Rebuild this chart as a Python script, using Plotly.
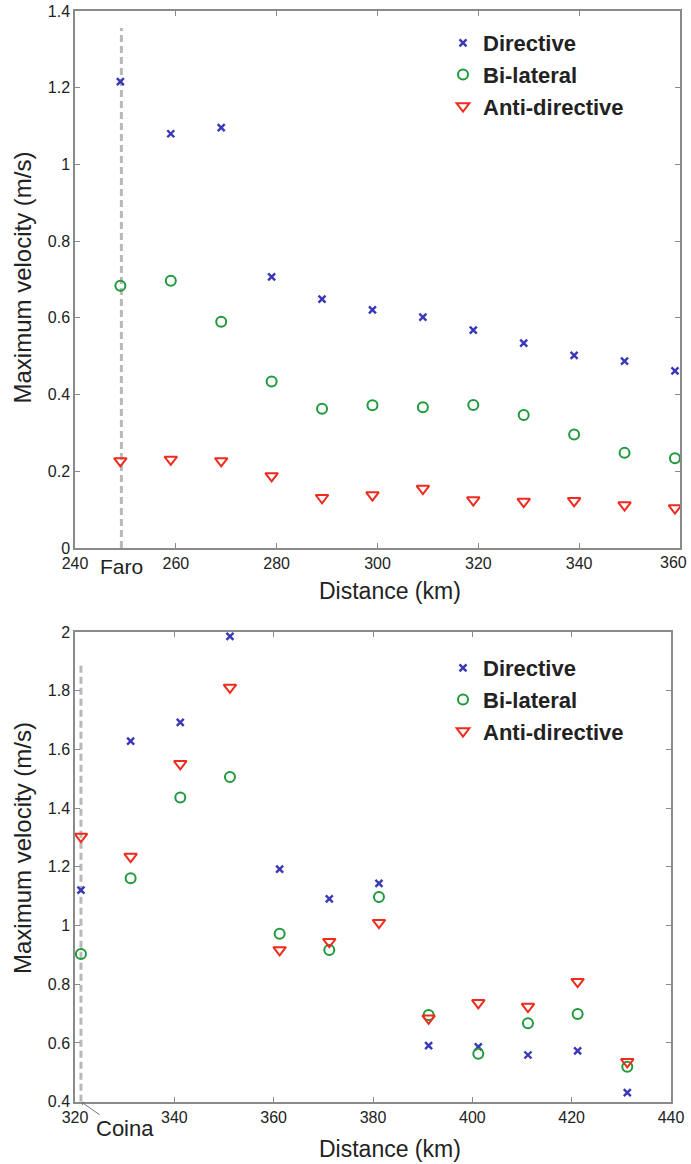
import plotly.graph_objects as go

# ---------------- data ----------------
series_names = ["Directive", "Bi-lateral", "Anti-directive"]

# Top panel (Faro)
dist_top = [249, 259, 269, 279, 289, 299, 309, 319, 329, 339, 349, 359]
directive_top = [1.216, 1.080, 1.096, 0.707, 0.649, 0.621, 0.602, 0.568, 0.534, 0.502, 0.487, 0.462]
bilateral_top = [0.684, 0.697, 0.590, 0.434, 0.363, 0.372, 0.367, 0.373, 0.347, 0.296, 0.248, 0.234]
antidir_top = [0.227, 0.231, 0.227, 0.188, 0.131, 0.138, 0.155, 0.125, 0.121, 0.123, 0.112, 0.104]
faro_km = 249.2
faro_line_top = 1.356
xticks_top = [240, 260, 280, 300, 320, 340, 360]

# Bottom panel (Coina)
dist_bot = [321.2, 331.2, 341.2, 351.2, 361.2, 371.2, 381.2, 391.2, 401.2, 411.2, 421.2, 431.2]
directive_bot = [1.121, 1.628, 1.692, 1.985, 1.192, 1.091, 1.144, 0.591, 0.587, 0.559, 0.573, 0.431]
bilateral_bot = [0.903, 1.161, 1.436, 1.506, 0.972, 0.917, 1.097, 0.695, 0.563, 0.667, 0.699, 0.519]
antidir_bot = [1.303, 1.235, 1.551, 1.811, 0.917, 0.945, 1.010, 0.684, 0.737, 0.724, 0.809, 0.536]
coina_km = 321.2
coina_line_top = 1.885

x_title = "Distance (km)"
y_title = "Maximum velocity (m/s)"

# ---------------- styling ----------------
W, H = 691, 1164
BLUE = "#3838b8"
GREEN = "#1e9a3c"
RED = "#ee2b1c"
AXIS = "#8a8a8a"
TXT = "#222222"
FONT = "Liberation Sans, Arial, Helvetica, sans-serif"
TICKFONT = dict(family=FONT, size=16, color=TXT)


def px_x(p):
    return p / W


def px_y(p):
    return 1 - p / H


fig = go.Figure()

styles = [
    dict(symbol="x-thin", size=7, color=BLUE, line=dict(color=BLUE, width=2.4)),
    dict(symbol="circle-open", size=10, color=GREEN, line=dict(color=GREEN, width=2)),
    dict(symbol="triangle-down-open", size=11, color=RED, line=dict(color=RED, width=2)),
]

top_vals = [directive_top, bilateral_top, antidir_top]
bot_vals = [directive_bot, bilateral_bot, antidir_bot]

for name, vals, st in zip(series_names, top_vals, styles):
    fig.add_trace(go.Scatter(x=dist_top, y=vals, mode="markers", name=name,
                             marker=st, xaxis="x", yaxis="y", legend="legend"))
for name, vals, st in zip(series_names, bot_vals, styles):
    fig.add_trace(go.Scatter(x=dist_bot, y=vals, mode="markers", name=name,
                             marker=st, xaxis="x2", yaxis="y2", legend="legend2"))

axis_common = dict(
    showline=True, linecolor=AXIS, linewidth=1.5, mirror="ticks",
    ticks="inside", ticklen=5, tickcolor=AXIS, tickwidth=1,
    showgrid=False, zeroline=False,
    tickfont=TICKFONT,
    ticklabeloverflow="allow",
    automargin=False,
)

# last top tick label is drawn separately so it stays inside the page edge
top_ticktext = [str(v) for v in xticks_top[:-1]] + [""]

fig.update_layout(
    width=W, height=H,
    margin=dict(l=0, r=0, t=0, b=0),
    paper_bgcolor="white", plot_bgcolor="white",
    showlegend=True,
    xaxis=dict(domain=[px_x(75), px_x(680)], range=[240, 360],
               tickmode="array", tickvals=xticks_top, ticktext=top_ticktext,
               anchor="y", **axis_common),
    yaxis=dict(domain=[px_y(548), px_y(11)], range=[0, 1.4], dtick=0.2,
               anchor="x", **axis_common),
    xaxis2=dict(domain=[px_x(75), px_x(671)], range=[320, 440], dtick=20,
                anchor="y2", **axis_common),
    yaxis2=dict(domain=[px_y(1101.7), px_y(632)], range=[0.4, 2], dtick=0.2,
                anchor="x2", **axis_common),
    legend=dict(x=px_x(443), y=px_y(22), xanchor="left", yanchor="top",
                bgcolor="rgba(0,0,0,0)",
                font=dict(family=FONT, size=22, color=TXT, weight="bold")),
    legend2=dict(x=px_x(443), y=px_y(647), xanchor="left", yanchor="top",
                 bgcolor="rgba(0,0,0,0)",
                 font=dict(family=FONT, size=22, color=TXT, weight="bold")),
)

fig.add_annotation(x=xticks_top[-1], xref="x", y=0, yref="y", text=str(xticks_top[-1]),
                   showarrow=False, font=TICKFONT, xanchor="right", yanchor="top",
                   xshift=9, yshift=-4)

# station reference lines
fig.add_shape(type="line", xref="x", yref="y", x0=faro_km, x1=faro_km, y0=0, y1=faro_line_top,
              line=dict(color="#b8b8b8", width=3, dash="7px,4px"), layer="below")
fig.add_shape(type="line", xref="x2", yref="y2", x0=coina_km, x1=coina_km, y0=0.4, y1=coina_line_top,
              line=dict(color="#b8b8b8", width=3, dash="7px,4px"), layer="below")

ann_font = dict(family=FONT, size=23, color=TXT)
# station labels
fig.add_annotation(x=faro_km, xref="x", y=px_y(566), yref="paper", text="Faro",
                   showarrow=False, font=dict(family=FONT, size=21, color=TXT),
                   xanchor="center", yanchor="middle")
fig.add_annotation(x=px_x(125), xref="paper", y=px_y(1128), yref="paper", text="Coina",
                   showarrow=False, font=dict(family=FONT, size=22, color=TXT),
                   xanchor="center", yanchor="middle")
fig.add_annotation(x=coina_km, xref="x2", y=0.4, yref="y2", ax=20, ay=14,
                   text="", showarrow=True,
                   arrowhead=1, arrowsize=0.8, arrowwidth=1, arrowcolor="#777777", standoff=1)

# axis titles
for yc in (591, 1149):
    fig.add_annotation(x=px_x(390), xref="paper", y=px_y(yc), yref="paper", text=x_title,
                       showarrow=False, font=ann_font, xanchor="center", yanchor="middle")
for yc in (277.5, 848):
    fig.add_annotation(x=px_x(22), xref="paper", y=px_y(yc), yref="paper", text=y_title,
                       showarrow=False, font=dict(family=FONT, size=24, color=TXT),
                       textangle=-90, xanchor="center", yanchor="middle")

fig.write_html("out.html",
               config={"displayModeBar": False},
               post_script="document.body.style.margin='0';document.body.style.overflow='hidden';")
